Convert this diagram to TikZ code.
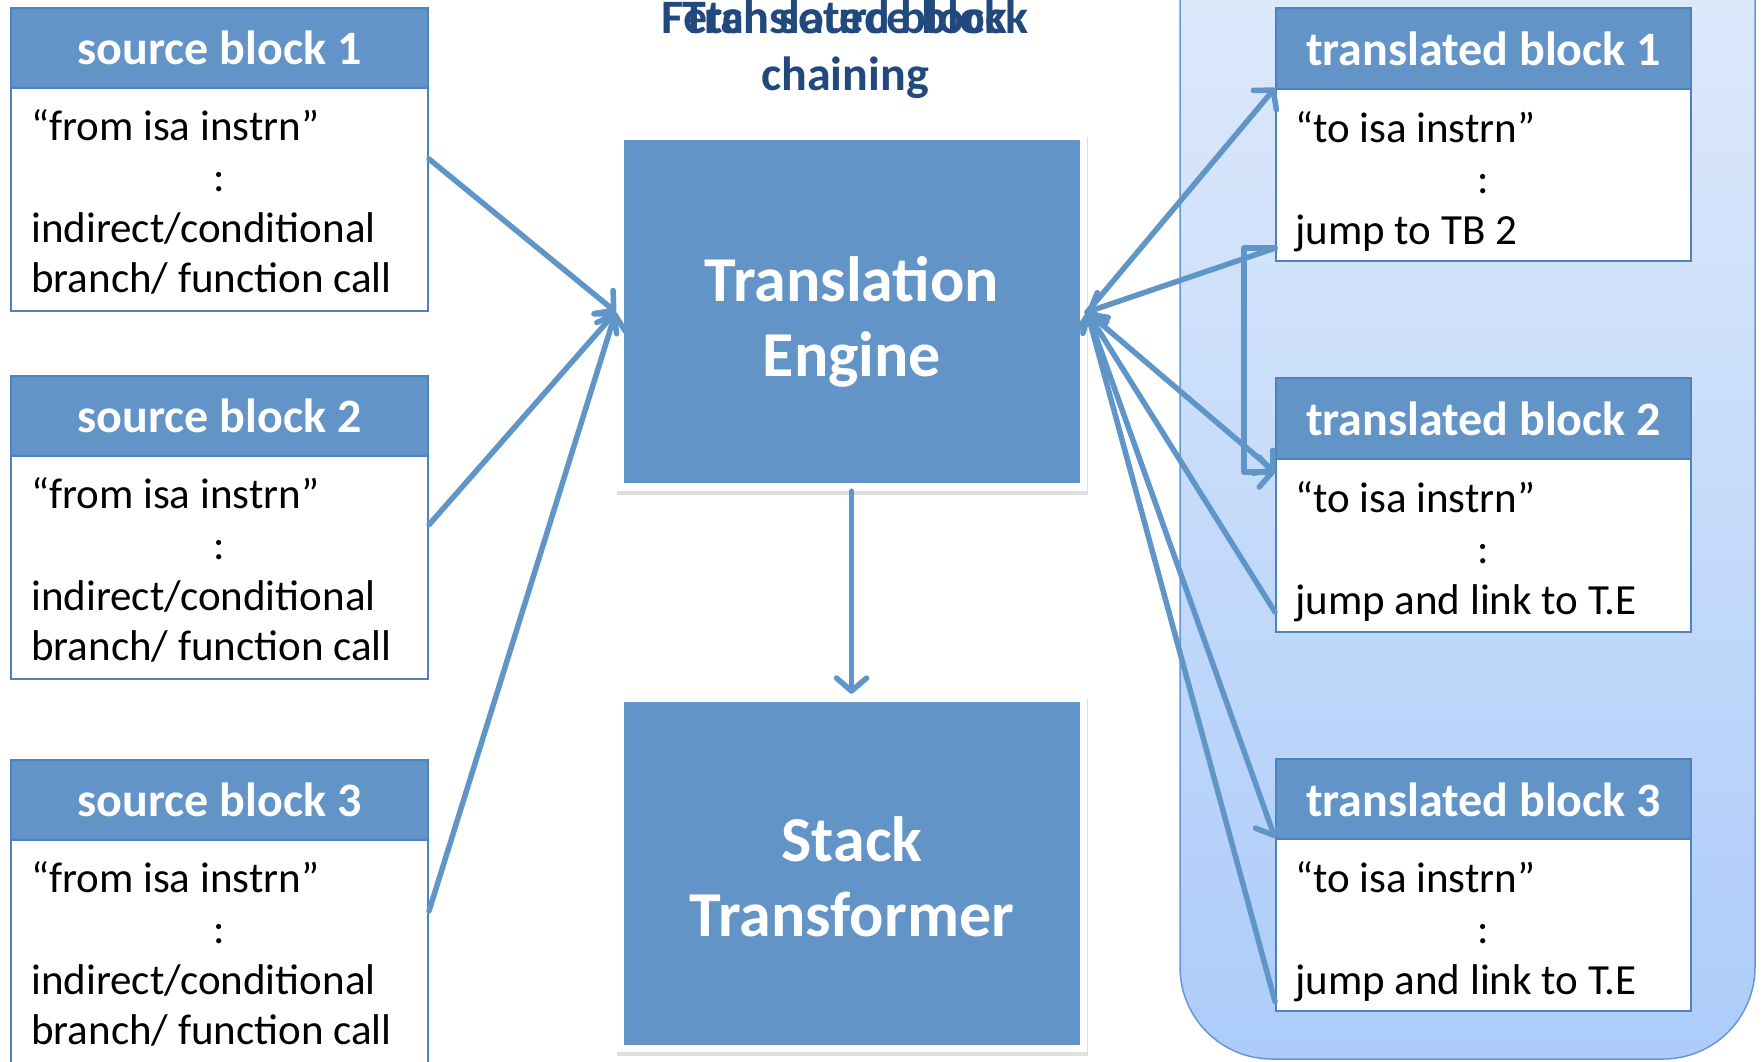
\documentclass[tikz,border=0pt]{standalone}
\usepackage{fontspec}
\setmainfont{Carlito}
\usetikzlibrary{arrows.meta,calc,shadows}

\definecolor{hdrblue}{RGB}{98,148,200}
\definecolor{edgeblue}{RGB}{79,129,189}
\definecolor{arrowblue}{RGB}{96,149,200}
\definecolor{titleblue}{RGB}{33,73,125}
\definecolor{paneltop}{RGB}{228,237,251}
\definecolor{panelbot}{RGB}{172,204,250}
\definecolor{paneledge}{RGB}{104,150,208}

\begin{document}
\begin{tikzpicture}[x=1pt,y=-1pt,
  hdr/.style={draw=edgeblue, line width=2pt, fill=hdrblue, inner sep=0pt,
    text=white, font=\fontsize{48}{58}\selectfont\bfseries},
  bodybox/.style={draw=edgeblue, line width=2pt, fill=white, inner sep=0pt},
  srcw/.style={minimum width=417pt},
  tbw/.style={minimum width=415pt},
  linetxt/.style={anchor=base west, inner sep=0pt, font=\fontsize{43}{50}\selectfont},
  colontxt/.style={anchor=base, inner sep=0pt, font=\fontsize{43}{50}\selectfont},
  frame/.style={fill=white, inner sep=0pt, minimum width=471pt, minimum height=358pt,
    drop shadow={shadow xshift=1pt, shadow yshift=-4pt, opacity=0.25}},
  core/.style={fill=hdrblue, inner sep=0pt, minimum width=456pt, minimum height=343pt},
  bigtxt/.style={align=center, text=white, inner sep=0pt,
    font=\fontsize{64}{75}\selectfont\bfseries},
  ttl/.style={anchor=base, inner sep=0pt, text=titleblue,
    font=\fontsize{48}{58}\selectfont\bfseries},
  flow/.style={draw=arrowblue, line width=5.5pt, line cap=round, line join=round,
    -{Straight Barb[length=13pt,width=30pt,round]}},
]
\path[use as bounding box, clip] (0,0) rectangle (1762,1061);

% rounded panel holding the translated blocks
\path[draw=paneledge, line width=1.5pt, top color=paneltop, bottom color=panelbot,
  rounded corners=92pt] (1180,-160) rectangle (1755,1059);

% title
\node[ttl] (ttlA) at (845,33) {Fetch source block};
\node[ttl] (ttlB) at (845,33) {Translated block};
\node[ttl] (ttlC) at (845,90) {chaining};

% translation engine and stack transformer
\node[frame] (tef) at (851.5,312) {};
\node[core] (te) at (852,311.5) {};
\node[bigtxt] (tetxt) at (852,322) {Translation\\Engine};

\node[frame] (stf) at (851.5,873) {};
\node[core] (st) at (852,873) {};
\node[bigtxt] (sttxt) at (852,877) {Stack\\Transformer};

% source blocks
\foreach \n/\Y in {1/8,2/376,3/760} {
  \node[hdr, srcw, minimum height=80pt] (sb\n h) at (219.5,\Y+40) {source block \n};
  \node[bodybox, srcw, minimum height=223pt] (sb\n b) at (219.5,\Y+191.5) {};
  \node[linetxt] (sb\n la) at (31,\Y+132) {“from isa instrn”};
  \node[colontxt] (sb\n lb) at (219.5,\Y+183) {:};
  \node[linetxt] (sb\n lc) at (31,\Y+234) {indirect/conditional};
  \node[linetxt] (sb\n ld) at (31,\Y+284) {branch/ function call};
}

% translated blocks
\node[hdr, tbw, minimum height=81pt] (tb1h) at (1483.5,48.5) {translated block 1};
\node[bodybox, tbw, minimum height=172pt] (tb1b) at (1483.5,175) {};
\node[linetxt] (tb1la) at (1295,142) {“to isa instrn”};
\node[colontxt] (tb1lb) at (1483.5,193) {:};
\node[linetxt] (tb1lc) at (1295,244) {jump to TB 2};

\node[hdr, tbw, minimum height=81pt] (tb2h) at (1483.5,418.5) {translated block 2};
\node[bodybox, tbw, minimum height=173pt] (tb2b) at (1483.5,545.5) {};
\node[linetxt] (tb2la) at (1295,512) {“to isa instrn”};
\node[colontxt] (tb2lb) at (1483.5,563) {:};
\node[linetxt] (tb2lc) at (1295,614) {jump and link to T.E};

\node[hdr, tbw, minimum height=81pt] (tb3h) at (1483.5,799.5) {translated block 3};
\node[bodybox, tbw, minimum height=172pt] (tb3b) at (1483.5,925) {};
\node[linetxt] (tb3la) at (1295,892) {“to isa instrn”};
\node[colontxt] (tb3lb) at (1483.5,943) {:};
\node[linetxt] (tb3lc) at (1295,994) {jump and link to T.E};

% connector end points on the block borders
\coordinate (sb1out) at ($(sb1b.north east)!0.32!(sb1b.south east)$);
\coordinate (sb2out) at ($(sb2b.north east)!0.31!(sb2b.south east)$);
\coordinate (sb3out) at ($(sb3b.north east)!0.32!(sb3b.south east)$);
\coordinate (tb1in)  at (tb1b.north west);
\coordinate (tb1out) at ($(tb1b.north west)!0.92!(tb1b.south west)$);
\coordinate (tb2in)  at ($(tb2b.north west)!0.08!(tb2b.south west)$);
\coordinate (tb2out) at ($(tb2b.north west)!0.88!(tb2b.south west)$);
\coordinate (tb3in)  at (tb3b.north west);
\coordinate (tb3out) at ($(tb3b.north west)!0.94!(tb3b.south west)$);

% source blocks into the engine
\draw[flow] (sb1out) -- (tef.west);
\draw[flow] (sb2out) -- (tef.west);
\draw[flow] (sb3out) -- (tef.west);

% engine to the stack transformer
\draw[flow] (tef.south) -- (stf.north);

% engine and translated blocks
\draw[flow] (tef.east) -- (tb1in);
\draw[flow] (tb1out) -- (tef.east);
\draw[flow] (tef.east) -- (tb2in);
\draw[flow] (tb2out) -- (tef.east);
\draw[flow] (tef.east) -- (tb3in);
\draw[flow] (tb3out) -- (tef.east);

% direct chaining from block 1 to block 2
\draw[flow] (tb1out) -- ++(-31,0) |- (tb2in);
\end{tikzpicture}
\end{document}
